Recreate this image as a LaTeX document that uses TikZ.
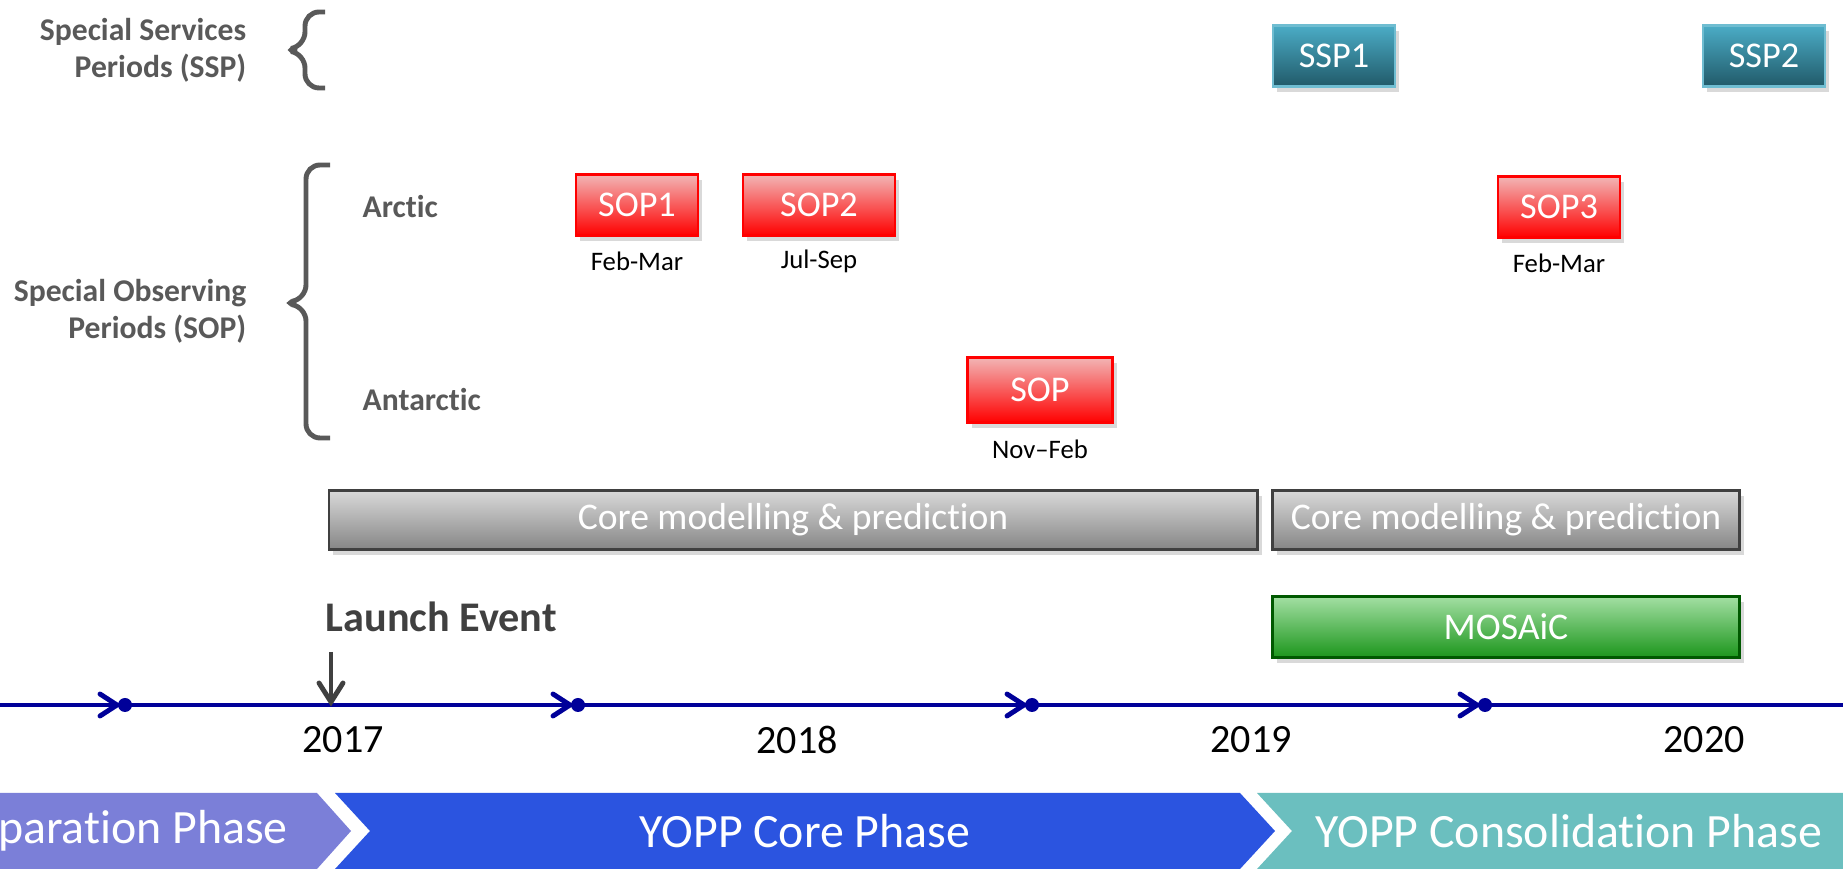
\documentclass[tikz,border=0pt]{standalone}
\usepackage{fontspec}
\setmainfont{Carlito}[Ligatures=NoCommon]
\usetikzlibrary{shadows}

\definecolor{labelgray}{HTML}{595959}
\definecolor{darkgray}{HTML}{404040}
\definecolor{sspteal}{HTML}{4BACC6}
\definecolor{sspdark}{HTML}{215A69}
\definecolor{soppink}{HTML}{F2B5B5}
\definecolor{mosaiclight}{HTML}{A3DFA3}
\definecolor{mosaicdark}{HTML}{1C961C}
\definecolor{navyline}{HTML}{000099}
\definecolor{prepphase}{HTML}{7B7FD8}
\definecolor{corephase}{HTML}{2B54E0}
\definecolor{consphase}{HTML}{6BBFBF}

\begin{document}
\begin{tikzpicture}[x=0.01cm, y=-0.01cm,
    box/.style={draw, line width=0.7pt, text=white, inner sep=0pt,
        drop shadow={opacity=0.3, shadow xshift=1.2pt, shadow yshift=-1.5pt}},
    sspbox/.style={box, draw=sspteal!80!white, top color=sspteal, bottom color=sspdark,
        minimum width=1.22cm, minimum height=0.61cm, font=\fontsize{10.3}{12}\selectfont},
    sopbox/.style={box, draw=red, top color=soppink, bottom color=red,
        minimum width=1.22cm, minimum height=0.61cm, font=\fontsize{10.3}{12}\selectfont},
    corebar/.style={box, draw=darkgray, top color=gray!30, bottom color=gray!95,
        minimum height=0.59cm, font=\fontsize{10.7}{12}\selectfont},
    mosaicbar/.style={box, draw=green!35!black, top color=mosaiclight, bottom color=mosaicdark,
        minimum height=0.61cm, font=\fontsize{10.7}{12}\selectfont},
    grouplabel/.style={align=right, anchor=east, inner sep=0pt, text=labelgray, font=\bfseries\fontsize{9}{10.5}\selectfont},
    regionlabel/.style={anchor=west, inner sep=0pt, text=labelgray, font=\bfseries\fontsize{9}{11}\selectfont},
    monthlabel/.style={font=\fontsize{7.6}{9}\selectfont},
    yearlabel/.style={font=\fontsize{11.4}{13}\selectfont},
    bracket/.style={draw=labelgray, line width=1.4pt, rounded corners=4pt},
    phasetext/.style={text=white, font=\fontsize{13.6}{15}\selectfont}]

    \useasboundingbox (0,0) rectangle (1843,871);
    \clip (0,0) rectangle (1843,871);

    % Group labels and brackets
    \node[grouplabel] (ssplabel) at (247,50) {Special Services\\Periods (SSP)};
    \node[grouplabel] (soplabel) at (247,311) {Special Observing\\Periods (SOP)};
    \draw[bracket] (325,12) -- (305,12) -- (305,46) -- (283,50) -- (305,54) -- (305,88) -- (325,88);
    \draw[bracket] (330,165) -- (306,165) -- (306,299) -- (282,303) -- (306,307) -- (306,438) -- (330,438);
    \node[regionlabel] (arctic) at (362,207) {Arctic};
    \node[regionlabel] (antarctic) at (362,400) {Antarctic};

    % Special services periods
    \node[sspbox] (ssp1) at (1334,56) {SSP1};
    \node[sspbox] (ssp2) at (1764,56) {SSP2};

    % Special observing periods
    \node[sopbox] (sop1) at (637,205) {SOP1};
    \node[sopbox, minimum width=1.52cm] (sop2) at (819,205) {SOP2};
    \node[sopbox] (sop3) at (1559,207) {SOP3};
    \node[sopbox, minimum width=1.45cm, minimum height=0.65cm] (sopant) at (1040,390) {SOP};
    \node[monthlabel] (sop1months) at (637,261) {Feb-Mar};
    \node[monthlabel] (sop2months) at (819,261) {Jul-Sep};
    \node[monthlabel] (sop3months) at (1559,263) {Feb-Mar};
    \node[monthlabel] (sopantmonths) at (1040,449) {Nov–Feb};

    % Core bars and MOSAiC
    \node[corebar, minimum width=9.28cm] (core1) at (793,520) {Core modelling \& prediction};
    \node[corebar, minimum width=4.67cm] (core2) at (1506,520) {Core modelling \& prediction};
    \node[mosaicbar, minimum width=4.67cm] (mosaic) at (1506,627) {MOSAiC};

    % Timeline
    \draw[navyline, line width=1.4pt] (0,705) -- (1843,705);
    \foreach \x [count=\i] in {125,578,1032,1485} {
        \coordinate (mark\i) at (\x,705);
        \fill[navyline] (mark\i) circle (7);
        \draw[navyline, line width=1.4pt, line cap=round] (\x-25,694) -- (\x-8,705) -- (\x-25,716);
    }
    \foreach \year/\x in {2017/343,2018/797,2019/1251,2020/1704}
        \node[yearlabel] (y\year) at (\x,740) {\year};

    % Launch event
    \node[anchor=west, inner sep=0pt, text=darkgray, font=\bfseries\fontsize{12}{14}\selectfont] (launch) at (325,617) {Launch Event};
    \coordinate (launchtop) at (331,652);
    \coordinate (launchtick) at (331,702);
    \draw[darkgray, line width=1.4pt] (launchtop) -- (launchtick);
    \draw[darkgray, line width=1.4pt, line cap=round] (319,683) -- (launchtick) -- (343,683);

    % Phases
    \fill[prepphase] (-50,793) -- (317,793) -- (351,831) -- (317,869) -- (-50,869) -- cycle;
    \fill[corephase] (335,793) -- (1240,793) -- (1275,831) -- (1240,869) -- (335,869) -- (370,831) -- cycle;
    \fill[consphase] (1257,793) -- (1900,793) -- (1900,869) -- (1257,869) -- (1292,831) -- cycle;
    \node[phasetext, anchor=east] (prep) at (300,831) {YOPP Preparation Phase};
    \node[phasetext] (corep) at (805,831) {YOPP Core Phase};
    \node[phasetext] (consp) at (1569,831) {YOPP Consolidation Phase};
\end{tikzpicture}
\end{document}
